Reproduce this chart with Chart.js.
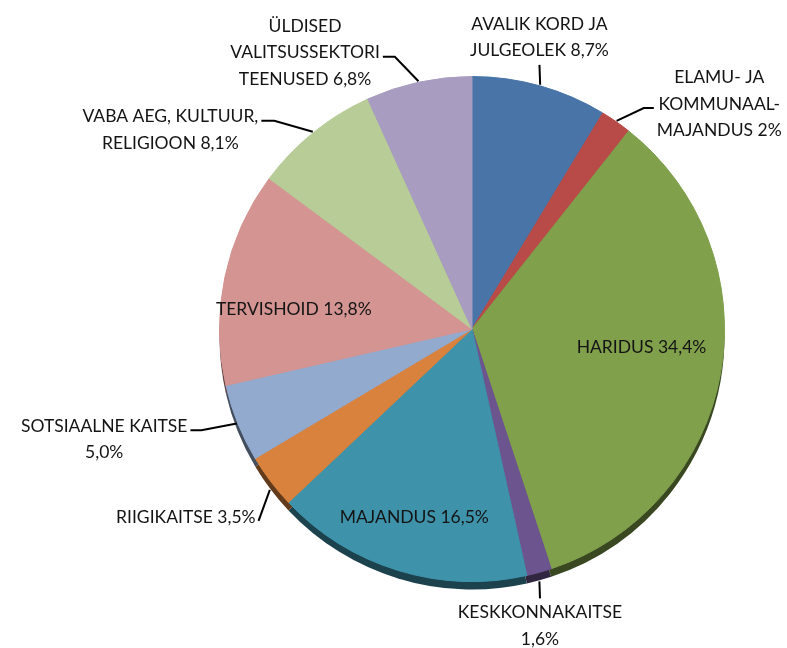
<!DOCTYPE html>
<html>
<head>
<meta charset="utf-8">
<script src="https://cdn.jsdelivr.net/npm/chart.js@4"></script>
<style>
  html, body { margin: 0; padding: 0; background: #fff; }
  #wrap { width: 787px; height: 648px; }
</style>
</head>
<body>
<div id="wrap"><canvas id="chart" width="787" height="648"></canvas></div>
<script>
// andmed
const categories = [
  ["AVALIK KORD JA", "JULGEOLEK"],
  ["ELAMU- JA", "KOMMUNAAL-", "MAJANDUS"],
  ["HARIDUS"],
  ["KESKKONNAKAITSE", ""],
  ["MAJANDUS"],
  ["RIIGIKAITSE"],
  ["SOTSIAALNE KAITSE", ""],
  ["TERVISHOID"],
  ["VABA AEG, KULTUUR,", "RELIGIOON"],
  ["ÜLDISED", "VALITSUSSEKTORI", "TEENUSED"]
];
const values = [8.7, 2, 34.4, 1.6, 16.5, 3.5, 5.0, 13.8, 8.1, 6.8];
const valueText = ["8,7%", "2%", "34,4%", "1,6%", "16,5%", "3,5%", "5,0%", "13,8%", "8,1%", "6,8%"];

const colors = ["#4874A8", "#B84A47", "#80A04C", "#6C548E", "#3E93AB",
                "#D9823E", "#93AACF", "#D39492", "#B8CC98", "#A89CC0"];

// sildi paigutus: in = sektori sees, up/down/side = juhtjoonega
const placement = [
  { type: "up", len: 20, ang: -92 },
  { type: "side", len: 30, ang: -25, tail: 10 , line: 1 },
  { type: "in", f: 0.675, dAng: -4 },
  { type: "down", len: 17, ang: 88 },
  { type: "in", f: 0.78, dAng: 0 },
  { type: "side", len: 33, ang: 110, tail: 0, line: 0 },
  { type: "side", len: 36, ang: 169, tail: 11, line: 0 },
  { type: "in", f: 0.71, dAng: -5.5 },
  { type: "side", len: 40, ang: 196, tail: 13, line: 0 },
  { type: "side", len: 34, ang: 226, tail: 12, line: 1 }
];

const DEPTH = 8;
const FONT = "17.5px Lato";
const LINE_H = 26.5;

function darken(hex, k) {
  const n = parseInt(hex.slice(1), 16);
  const r = Math.round(((n >> 16) & 255) * k);
  const g = Math.round(((n >> 8) & 255) * k);
  const b = Math.round((n & 255) * k);
  return `rgb(${r},${g},${b})`;
}

function labelLines(i) {
  const lines = categories[i].slice();
  const last = lines.length - 1;
  lines[last] = (lines[last] + " " + valueText[i]).trim();
  return lines;
}

// 3D serv sektorite all
const rimPlugin = {
  id: "rim",
  beforeDatasetsDraw(chart) {
    const ctx = chart.ctx;
    const arcs = chart.getDatasetMeta(0).data;
    ctx.save();
    arcs.forEach((a, i) => {
      const p = a.getProps(["x", "y", "startAngle", "endAngle", "outerRadius"], true);
      ctx.beginPath();
      ctx.moveTo(p.x, p.y + DEPTH);
      ctx.arc(p.x, p.y + DEPTH, p.outerRadius, p.startAngle, p.endAngle);
      ctx.closePath();
      ctx.fillStyle = darken(colors[i], 0.45);
      ctx.fill();
    });
    ctx.restore();
  }
};

const labelPlugin = {
  id: "sildid",
  afterDatasetsDraw(chart) {
    const ctx = chart.ctx;
    const arcs = chart.getDatasetMeta(0).data;
    ctx.save();
    ctx.font = FONT;
    ctx.fillStyle = "#141414";
    ctx.strokeStyle = "#000";
    ctx.lineWidth = 2;
    ctx.textBaseline = "middle";
    ctx.textAlign = "center";
    arcs.forEach((a, i) => {
      const p = a.getProps(["x", "y", "startAngle", "endAngle", "outerRadius"], true);
      const mid = (p.startAngle + p.endAngle) / 2;
      const pl = placement[i];
      const lines = labelLines(i);

      if (pl.type === "in") {
        const ang = mid + pl.dAng * Math.PI / 180;
        const cx = p.x + Math.cos(ang) * p.outerRadius * pl.f;
        const cy = p.y + Math.sin(ang) * p.outerRadius * pl.f;
        lines.forEach((t, k) => ctx.fillText(t, cx, cy + (k - (lines.length - 1) / 2) * LINE_H));
        return;
      }

      // juhtjoon
      let sx = p.x + Math.cos(mid) * (p.outerRadius + 1);
      let sy = p.y + Math.sin(mid) * (p.outerRadius + 1);
      if (Math.sin(mid) > 0.5) sy += DEPTH;
      const d = pl.ang * Math.PI / 180;
      const ex = sx + Math.cos(d) * pl.len;
      const ey = sy + Math.sin(d) * pl.len;
      ctx.beginPath();
      ctx.moveTo(sx, sy);
      ctx.lineTo(ex, ey);

      if (pl.type === "up" || pl.type === "down") {
        ctx.stroke();
        const n = lines.length;
        lines.forEach((t, k) => {
          const y = pl.type === "up"
            ? ey - 14 - (n - 1 - k) * LINE_H
            : ey + 14 + k * LINE_H;
          ctx.fillText(t, ex, y);
        });
        return;
      }

      const right = Math.cos(d) > 0;
      const tx = ex + (right ? pl.tail : -pl.tail);
      ctx.lineTo(tx, ey);
      ctx.stroke();
      const w = Math.max(...lines.map(t => ctx.measureText(t).width));
      const cx = right ? tx + 3 + w / 2 : tx - 3 - w / 2;
      lines.forEach((t, k) => ctx.fillText(t, cx, ey - 4 + (k - pl.line) * LINE_H));
    });
    ctx.restore();
  }
};

new Chart(document.getElementById("chart"), {
  type: "pie",
  data: {
    labels: categories.map(c => c.join(" ").trim()),
    datasets: [{
      data: values,
      backgroundColor: colors,
      borderColor: colors,
      borderWidth: 1
    }]
  },
  options: {
    responsive: false,
    animation: false,
    layout: { padding: { left: 219, right: 62, top: 76, bottom: 66 } },
    plugins: {
      legend: { display: false },
      tooltip: { enabled: false }
    }
  },
  plugins: [rimPlugin, labelPlugin]
});
</script>
</body>
</html>
